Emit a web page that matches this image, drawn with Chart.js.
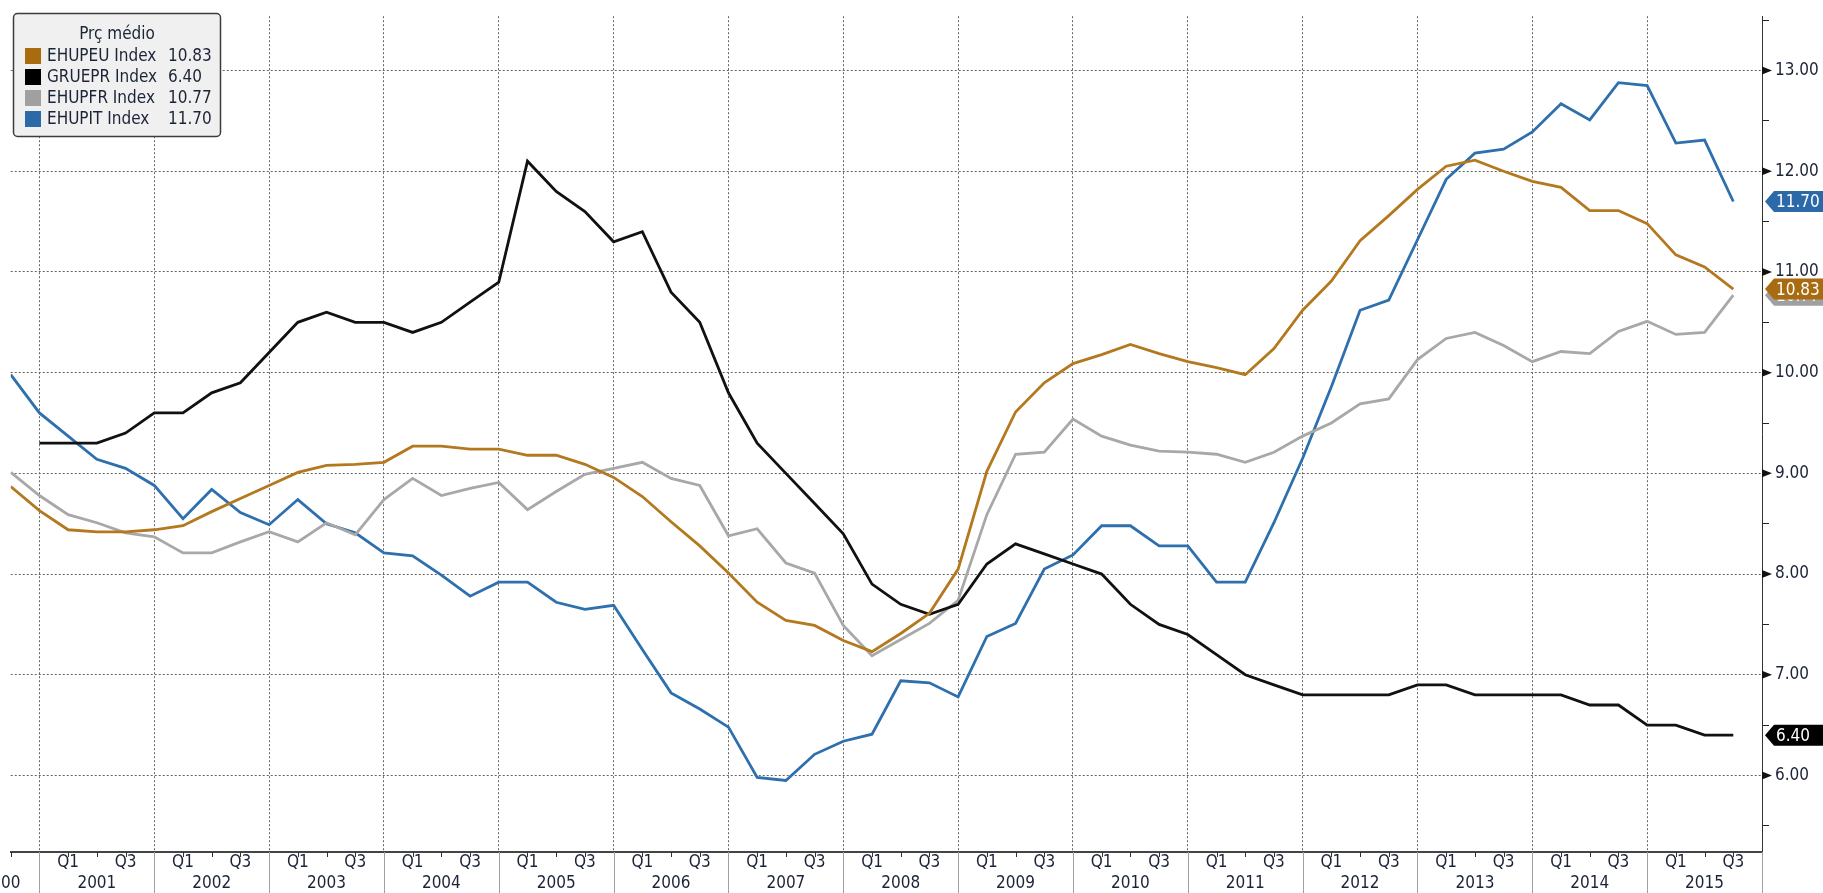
<!DOCTYPE html>
<html>
<head>
<meta charset="utf-8">
<script src="https://cdn.jsdelivr.net/npm/chart.js@4.4.1/dist/chart.umd.min.js"></script>
<style>
  html, body { margin: 0; padding: 0; background: #fff; overflow: hidden; }
</style>
</head>
<body>
<canvas id="chart" width="1823" height="893"></canvas>
<script>
var years = ['2000', '2001', '2002', '2003', '2004', '2005', '2006', '2007',
  '2008', '2009', '2010', '2011', '2012', '2013', '2014', '2015'];
var quarterNames = ['Q1', 'Q2', 'Q3', 'Q4'];
var legendTitle = 'Prç médio';
var seriesNames = ['EHUPEU Index', 'GRUEPR Index', 'EHUPFR Index', 'EHUPIT Index'];

// quarterly points, Q3 2000 .. Q3 2015
var ehupeu = [8.87, 8.63, 8.44, 8.42, 8.42, 8.44, 8.48, 8.62, 8.75, 8.88,
  9.01, 9.08, 9.09, 9.11, 9.27, 9.27, 9.24, 9.24, 9.18, 9.18,
  9.09, 8.96, 8.77, 8.52, 8.28, 8.01, 7.72, 7.54, 7.49, 7.34,
  7.23, 7.41, 7.61, 8.05, 9.02, 9.61, 9.90, 10.09, 10.18, 10.28,
  10.19, 10.11, 10.05, 9.98, 10.24, 10.62, 10.91, 11.31, 11.56, 11.82,
  12.05, 12.11, 12.00, 11.90, 11.84, 11.61, 11.61, 11.48, 11.17, 11.05,
  10.83];
var gruepr = [null, 9.3, 9.3, 9.3, 9.4, 9.6, 9.6, 9.8, 9.9, 10.2,
  10.5, 10.6, 10.5, 10.5, 10.4, 10.5, 10.7, 10.9, 12.1, 11.8,
  11.6, 11.3, 11.4, 10.8, 10.5, 9.8, 9.3, 9.0, 8.7, 8.4,
  7.9, 7.7, 7.6, 7.7, 8.1, 8.3, 8.2, 8.1, 8.0, 7.7,
  7.5, 7.4, 7.2, 7.0, 6.9, 6.8, 6.8, 6.8, 6.8, 6.9,
  6.9, 6.8, 6.8, 6.8, 6.8, 6.7, 6.7, 6.5, 6.5, 6.4,
  6.4];
var ehupfr = [9.01, 8.78, 8.59, 8.51, 8.41, 8.37, 8.21, 8.21, 8.32, 8.42,
  8.32, 8.51, 8.39, 8.74, 8.95, 8.78, 8.85, 8.91, 8.64, 8.82,
  8.99, 9.05, 9.11, 8.95, 8.88, 8.38, 8.45, 8.11, 8.01, 7.49,
  7.19, 7.35, 7.51, 7.74, 8.59, 9.19, 9.21, 9.54, 9.37, 9.28,
  9.22, 9.21, 9.19, 9.11, 9.21, 9.37, 9.50, 9.69, 9.74, 10.13,
  10.34, 10.40, 10.27, 10.11, 10.21, 10.19, 10.41, 10.51, 10.38, 10.40,
  10.77];
var ehupit = [9.98, 9.60, 9.37, 9.14, 9.05, 8.88, 8.55, 8.84, 8.61, 8.49,
  8.74, 8.50, 8.41, 8.21, 8.18, 7.99, 7.78, 7.92, 7.92, 7.72,
  7.65, 7.69, 7.25, 6.82, 6.66, 6.48, 5.98, 5.95, 6.21, 6.34,
  6.41, 6.94, 6.92, 6.78, 7.38, 7.51, 8.05, 8.19, 8.48, 8.48,
  8.28, 8.28, 7.92, 7.92, 8.51, 9.15, 9.86, 10.62, 10.72, 11.32,
  11.92, 12.18, 12.22, 12.39, 12.67, 12.51, 12.88, 12.85, 12.28, 12.31,
  11.70];

var seriesValues = [ehupeu, gruepr, ehupfr, ehupit];
var lineColors = ['#b4781f', '#111111', '#a8a8a8', '#2e6fad'];
var boxColors = ['#a86b10', '#000000', '#a0a0a0', '#2b69a8'];

var FONT = '"DejaVu Sans Condensed", "Liberation Sans Narrow", "DejaVu Sans", sans-serif';
var TEXT = '#1b2336';

// category list: one entry per quarter shown
var quarters = [];
for (var y = 0; y < years.length; y++) {
  for (var q = 0; q < 4; q++) {
    if (y === 0 && q < 2) continue;
    if (y === years.length - 1 && q > 2) continue;
    quarters.push({ year: years[y], q: quarterNames[q] });
  }
}
var xMax = quarters.length; // end of 2015

function isYearStart(i) {
  return i % 4 === 1;
}

function quarterTick(value) {
  var p = quarters[value];
  if (!p) return ['', ''];
  var top = (p.q === 'Q1' || p.q === 'Q3') && value > 0 ? p.q : '';
  var bottom = p.q === 'Q2' ? p.year : '';
  if (value === 0) bottom = p.year.slice(2); // 2000 is cut at the left edge
  return [top, bottom];
}

function isWhole(v) {
  return Math.abs(v - Math.round(v)) < 1e-6;
}

function drawBadge(ctx, x, y, w, text, color) {
  var h = 21;
  ctx.beginPath();
  ctx.moveTo(x, y);
  ctx.lineTo(x + 9, y - h / 2);
  ctx.lineTo(x + w, y - h / 2);
  ctx.lineTo(x + w, y + h / 2);
  ctx.lineTo(x + 9, y + h / 2);
  ctx.closePath();
  ctx.fillStyle = color;
  ctx.fill();
  ctx.fillStyle = '#fff';
  ctx.textAlign = 'left';
  ctx.textBaseline = 'middle';
  ctx.fillText(text, x + 11, y + 1);
}

var decorations = {
  id: 'decorations',
  afterDraw: function (chart) {
    var ctx = chart.ctx;
    var area = chart.chartArea;
    var xs = chart.scales.x;
    var ys = chart.scales.y;
    ctx.save();

    // quarter ticks and year separators under the time axis
    for (var i = 0; i <= xMax; i++) {
      var px = Math.round(xs.getPixelForValue(i)) + 0.5;
      ctx.beginPath();
      ctx.lineWidth = 1;
      if (isYearStart(i)) {
        ctx.strokeStyle = '#a0a0a0';
        ctx.moveTo(px, area.bottom);
        ctx.lineTo(px, chart.height);
      } else {
        ctx.strokeStyle = '#333';
        ctx.moveTo(px, area.bottom);
        ctx.lineTo(px, area.bottom + 5);
      }
      ctx.stroke();
    }

    // arrow marks on the value axis
    ctx.fillStyle = '#111';
    ys.ticks.forEach(function (t) {
      if (!isWhole(t.value)) return;
      var py = ys.getPixelForValue(t.value);
      ctx.beginPath();
      ctx.moveTo(area.right, py - 4);
      ctx.lineTo(area.right + 10, py);
      ctx.lineTo(area.right, py + 4);
      ctx.closePath();
      ctx.fill();
    });

    // last value tags
    ctx.font = '17px ' + FONT;
    var tagOrder = [2, 0, 1, 3];
    tagOrder.forEach(function (k) {
      var vals = seriesValues[k];
      var last = vals[vals.length - 1];
      drawBadge(ctx, area.right + 3, ys.getPixelForValue(last), chart.width - area.right - 3,
        last.toFixed(2), boxColors[k]);
    });

    // legend box
    ctx.beginPath();
    ctx.roundRect(13.5, 13.5, 207, 123, 4);
    ctx.fillStyle = '#f0f0f0';
    ctx.fill();
    ctx.lineWidth = 1.5;
    ctx.strokeStyle = '#3c3c3c';
    ctx.stroke();
    ctx.font = '17px ' + FONT;
    ctx.fillStyle = TEXT;
    ctx.textBaseline = 'middle';
    ctx.textAlign = 'center';
    ctx.fillText(legendTitle, 117, 35);
    ctx.textAlign = 'left';
    for (var k = 0; k < seriesNames.length; k++) {
      var ry = 56 + 21 * k;
      var vals = seriesValues[k];
      ctx.fillStyle = boxColors[k];
      ctx.fillRect(25, ry - 8, 16, 16);
      ctx.fillStyle = TEXT;
      ctx.fillText(seriesNames[k], 47, ry + 1);
      ctx.fillText(vals[vals.length - 1].toFixed(2), 168, ry + 1);
    }
    ctx.restore();
  }
};

var datasets = seriesNames.map(function (name, k) {
  return {
    label: name,
    data: seriesValues[k].map(function (v, i) { return { x: i, y: v }; }),
    borderColor: lineColors[k],
    backgroundColor: lineColors[k],
    borderWidth: 2.8,
    pointRadius: 0,
    tension: 0,
    fill: false
  };
});

var chart = new Chart(document.getElementById('chart').getContext('2d'), {
  type: 'line',
  data: { datasets: datasets },
  plugins: [decorations],
  options: {
    responsive: false,
    animation: false,
    devicePixelRatio: 1,
    layout: { padding: { top: 10, left: 9, right: 0, bottom: 0 } },
    plugins: { legend: { display: false }, tooltip: { enabled: false } },
    scales: {
      x: {
        type: 'linear',
        position: 'bottom',
        min: 0,
        max: xMax,
        afterFit: function (scale) { scale.height = 41; },
        ticks: {
          stepSize: 1,
          autoSkip: false,
          maxRotation: 0,
          minRotation: 0,
          padding: 1,
          color: TEXT,
          font: { family: FONT, size: 17, lineHeight: 1.18 },
          callback: quarterTick
        },
        grid: {
          drawTicks: false,
          lineWidth: 1,
          color: function (c) {
            return c.tick && isYearStart(c.tick.value) ? '#666' : 'rgba(0,0,0,0)';
          }
        },
        border: { display: true, color: '#444', width: 2, dash: [2, 2] }
      },
      y: {
        type: 'linear',
        position: 'right',
        min: 5.24,
        max: 13.54,
        afterFit: function (scale) { scale.width = 61; },
        ticks: {
          stepSize: 0.5,
          includeBounds: false,
          padding: 6,
          color: TEXT,
          font: { family: FONT, size: 17 },
          callback: function (v) { return isWhole(v) ? v.toFixed(2) : ''; }
        },
        grid: {
          drawTicks: true,
          tickLength: 7,
          lineWidth: 1,
          color: function (c) {
            return c.tick && isWhole(c.tick.value) ? '#666' : 'rgba(0,0,0,0)';
          },
          tickColor: function (c) {
            return c.tick && isWhole(c.tick.value) ? 'rgba(0,0,0,0)' : '#222';
          }
        },
        border: { display: true, color: '#333', width: 1, dash: [2, 2] }
      }
    }
  }
});
</script>
</body>
</html>
